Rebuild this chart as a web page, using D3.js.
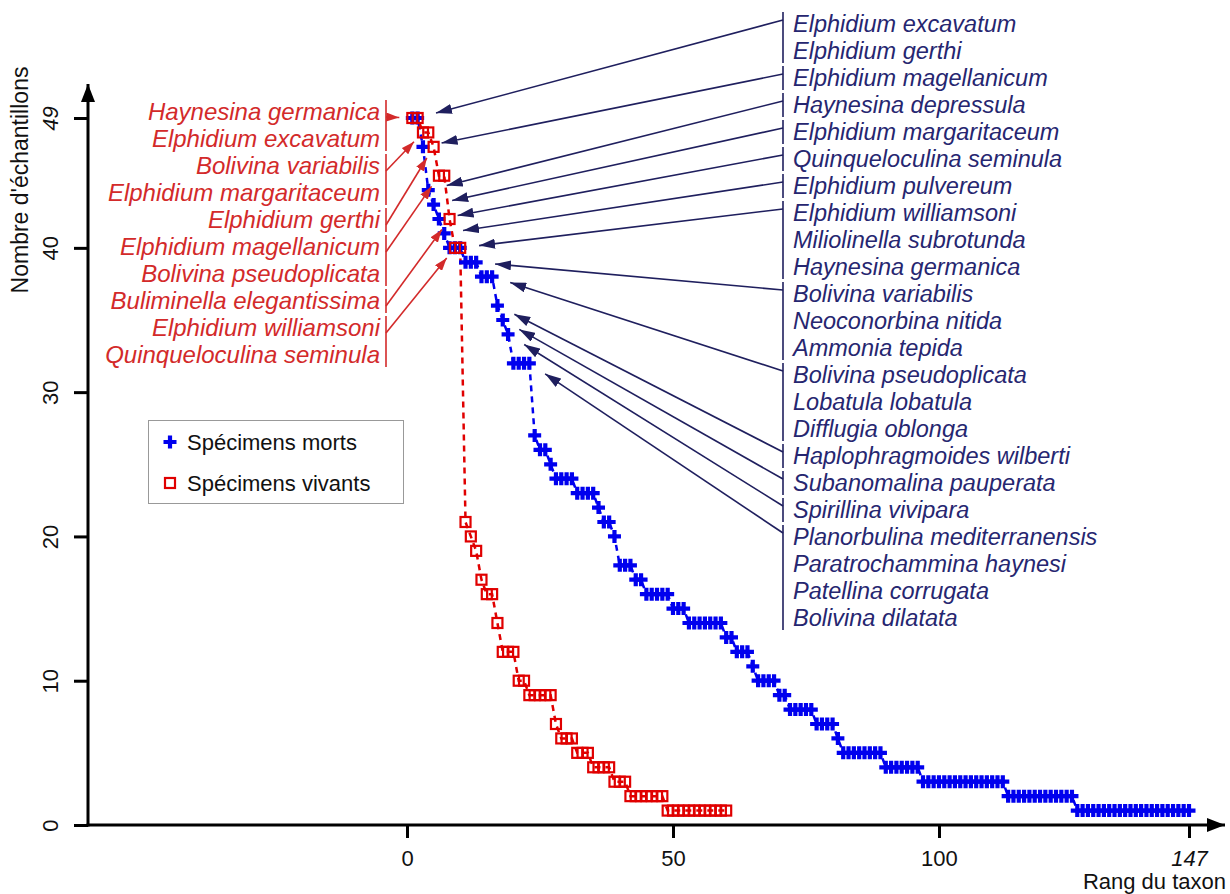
<!DOCTYPE html>
<html><head><meta charset="utf-8">
<script src="https://cdn.jsdelivr.net/npm/d3@7/dist/d3.min.js"></script>
<style>
body{margin:0;background:#fff}
text{font-family:Arial,"Liberation Sans",sans-serif}
</style>
</head><body>
<svg id="chart" width="1230" height="894"></svg>
<script>
// ---- data ----
const deadCounts = [49,49,47,44,43,42,41,40,40,40,39,39,39,38,38,38,36,35,34,32,32,32,32,
  27,26,26,25,24,24,24,24,23,23,23,23,22,21,21,20,18,18,18,17,17,16,16,16,16,16,15,15,15,
  14,14,14,14,14,14,14,13,13,12,12,12,11,10,10,10,10,9,9,8,8,8,8,8,7,7,7,7,6,
  5,5,5,5,5,5,5,5,4,4,4,4,4,4,4,
  3,3,3,3,3,3,3,3,3,3,3,3,3,3,3,3,
  2,2,2,2,2,2,2,2,2,2,2,2,2,
  1,1,1,1,1,1,1,1,1,1,1,1,1,1,1,1,1,1,1,1,1,1];
const liveCounts = [49,49,48,48,47,45,45,42,40,40,21,20,19,17,16,16,14,12,12,12,10,10,
  9,9,9,9,9,7,6,6,6,5,5,5,4,4,4,4,3,3,3,2,2,2,2,2,2,2,1,1,1,1,1,1,1,1,1,1,1,1];
const deadLabelGroups = [
  ["Elphidium excavatum","Elphidium gerthi"],
  ["Elphidium magellanicum"],
  ["Haynesina depressula"],
  ["Elphidium margaritaceum"],
  ["Quinqueloculina seminula"],
  ["Elphidium pulvereum"],
  ["Elphidium williamsoni","Miliolinella subrotunda","Haynesina germanica"],
  ["Bolivina variabilis","Neoconorbina nitida","Ammonia tepida"],
  ["Bolivina pseudoplicata","Lobatula lobatula","Difflugia oblonga"],
  ["Haplophragmoides wilberti"],
  ["Subanomalina pauperata"],
  ["Spirillina vivipara"],
  ["Planorbulina mediterranensis","Paratrochammina haynesi","Patellina corrugata","Bolivina dilatata"]
];
const liveLabelGroups = [
  ["Haynesina germanica","Elphidium excavatum"],
  ["Bolivina variabilis","Elphidium margaritaceum"],
  ["Elphidium gerthi"],
  ["Elphidium magellanicum","Bolivina pseudoplicata"],
  ["Buliminella elegantissima"],
  ["Elphidium williamsoni","Quinqueloculina seminula"]
];
const xTicks = [0,50,100,147];
const yTicks = [0,10,20,30,40,49];
const italicTicks = [49,147];
const legendLabels = ["Spécimens morts","Spécimens vivants"];
const yTitle = "Nombre d'échantillons";
const xTitle = "Rang du taxon";

// ---- styles ----
const BLUE = "#0000ee", RED = "#e00000", NAVY = "#1f1f5e", NAVYTXT = "#262670", REDTXT = "#d32a2a";

const svg = d3.select("#chart");
svg.append("rect").attr("width",1230).attr("height",894).attr("fill","#fff");

const x = d3.scaleLinear().domain([0,147]).range([407,1189]);
const y = d3.scaleLinear().domain([0,49]).range([825,118]);
const X0 = 88, Y0 = 825;

const defs = svg.append("defs");
function arrowMarker(id,color,len,wid){
  defs.append("marker").attr("id",id).attr("markerUnits","userSpaceOnUse")
    .attr("markerWidth",len).attr("markerHeight",wid).attr("refX",len).attr("refY",wid/2)
    .attr("orient","auto")
    .append("path").attr("d",`M0,0L${len},${wid/2}L0,${wid}Z`).attr("fill",color);
}
arrowMarker("ahNavy",NAVY,16,10);
arrowMarker("ahRed",REDTXT,13,9);
arrowMarker("ahAxis","#000",18,14);

// ---- axes ----
svg.append("line").attr("x1",X0).attr("x2",X0).attr("y1",Y0+1.5).attr("y2",84)
  .attr("stroke","#000").attr("stroke-width",3).attr("marker-end","url(#ahAxis)");
svg.append("line").attr("x1",X0-1.5).attr("x2",1225).attr("y1",Y0).attr("y2",Y0)
  .attr("stroke","#000").attr("stroke-width",3).attr("marker-end","url(#ahAxis)");

const gx = svg.append("g").attr("transform",`translate(0,${Y0})`)
  .call(d3.axisBottom(x).tickValues(xTicks).tickSize(13).tickPadding(12).tickFormat(d=>String(d)));
gx.select(".domain").remove();
gx.selectAll(".tick line").attr("stroke","#000").attr("stroke-width",3);
gx.selectAll(".tick text").attr("font-size",22).attr("fill","#111")
  .attr("font-family","Arial, 'Liberation Sans', sans-serif")
  .attr("font-style",d=>italicTicks.includes(d)?"italic":"normal");

const gy = svg.append("g").attr("transform",`translate(${X0},0)`)
  .call(d3.axisLeft(y).tickValues(yTicks).tickSize(14).tickFormat(d=>String(d)));
gy.select(".domain").remove();
gy.selectAll(".tick line").attr("stroke","#000").attr("stroke-width",3);
gy.selectAll(".tick text").attr("font-size",22).attr("fill","#111")
  .attr("font-family","Arial, 'Liberation Sans', sans-serif")
  .attr("font-style",d=>italicTicks.includes(d)?"italic":"normal")
  .attr("x",0).attr("y",-30).attr("dy",0).attr("text-anchor","middle")
  .attr("transform","rotate(-90)");

svg.append("text").attr("transform","translate(28,180) rotate(-90)")
  .attr("text-anchor","middle").attr("font-size",23).attr("fill","#111").text(yTitle);
svg.append("text").attr("x",1226).attr("y",889).attr("text-anchor","end")
  .attr("font-size",22).attr("fill","#111").text(xTitle);

// ---- series ----
const deadPts = deadCounts.map((v,i)=>({r:i+1,v}));
const livePts = liveCounts.map((v,i)=>({r:i+1,v}));
const line = d3.line().x(d=>x(d.r)).y(d=>y(d.v));

svg.append("path").datum(deadPts).attr("d",line).attr("fill","none")
  .attr("stroke",BLUE).attr("stroke-width",2.5).attr("stroke-dasharray","6,5");
svg.append("path").datum(livePts).attr("d",line).attr("fill","none")
  .attr("stroke",RED).attr("stroke-width",2.5).attr("stroke-dasharray","6,5");

const plusPath = "M-6.5,0H6.5M0,-6.5V6.5";
svg.append("g").selectAll("path").data(deadPts).join("path")
  .attr("transform",d=>`translate(${x(d.r)},${y(d.v)})`)
  .attr("d",plusPath).attr("stroke",BLUE).attr("stroke-width",4.2).attr("fill","none");
svg.append("g").selectAll("rect").data(livePts).join("rect")
  .attr("x",d=>x(d.r)-5).attr("y",d=>y(d.v)-5).attr("width",10).attr("height",10)
  .attr("fill","none").attr("stroke",RED).attr("stroke-width",2.2);

// ---- annotations ----
function annotate(groups, counts, opt){
  let rank = 0, row = 0;
  const g = svg.append("g");
  groups.forEach(names=>{
    const rFirst = rank+1, rLast = rank+names.length;
    const rowFirst = row, rowLast = row+names.length-1;
    rank = rLast; row = rowLast+1;
    const y0 = opt.rowY(rowFirst), y1 = opt.rowY(rowLast);
    g.append("line").attr("x1",opt.bx).attr("x2",opt.bx).attr("y1",y0-12).attr("y2",y1+12)
      .attr("stroke",opt.color).attr("stroke-width",1.6);
    names.forEach((n,k)=>{
      g.append("text").attr("x",opt.tx).attr("y",opt.rowY(rowFirst+k)).attr("dy","0.35em")
        .attr("text-anchor",opt.anchor).attr("font-style","italic").attr("font-size",opt.fs)
        .attr("fill",opt.tcolor).text(n);
    });
    const rAnchor = opt.useLast ? rLast : rFirst;
    const ax = x(rAnchor), ay = y(counts[rAnchor-1]);
    const sx = opt.bx, sy = y0 + opt.startOff;
    const dx = sx-ax, dy = sy-ay, L = Math.hypot(dx,dy);
    const tx = ax + dx/L*opt.gap, ty = ay + dy/L*opt.gap;
    g.append("line").attr("x1",sx).attr("y1",sy).attr("x2",tx).attr("y2",ty)
      .attr("stroke",opt.color).attr("stroke-width",1.6).attr("marker-end",`url(#${opt.marker})`);
  });
}
annotate(deadLabelGroups, deadCounts, {rowY:i=>24+27*i, bx:783, tx:793, anchor:"start", fs:23.5,
  color:NAVY, tcolor:NAVYTXT, useLast:true, gap:19, startOff:-4, marker:"ahNavy"});
annotate(liveLabelGroups, liveCounts, {rowY:i=>112+27*i, bx:386, tx:380, anchor:"end", fs:24,
  color:REDTXT, tcolor:REDTXT, useLast:false, gap:13, startOff:5, marker:"ahRed"});

// ---- legend ----
const lg = svg.append("g");
lg.append("rect").attr("x",148.5).attr("y",420.5).attr("width",255).attr("height",83)
  .attr("fill","#fff").attr("stroke","#999").attr("stroke-width",1);
lg.append("path").attr("transform","translate(170,442)").attr("d",plusPath)
  .attr("stroke",BLUE).attr("stroke-width",4.2);
lg.append("rect").attr("x",165).attr("y",478).attr("width",10).attr("height",10)
  .attr("fill","none").attr("stroke",RED).attr("stroke-width",2.2);
lg.selectAll("text").data(legendLabels).join("text")
  .attr("x",187).attr("y",(d,i)=>442+i*41).attr("dy","0.35em")
  .attr("font-size",22).attr("fill","#111").text(d=>d);
</script>
</body></html>
